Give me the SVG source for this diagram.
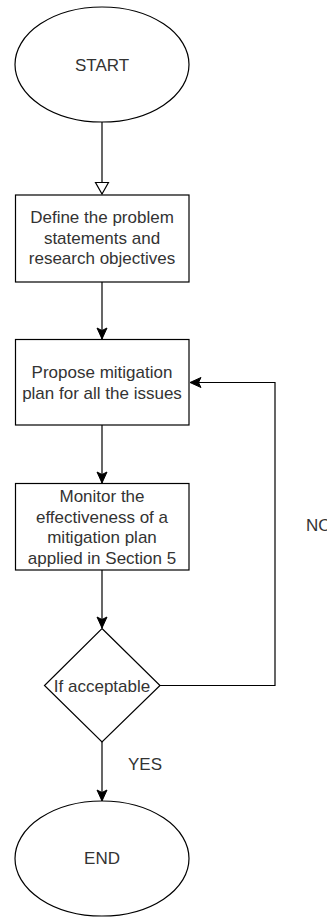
<svg xmlns="http://www.w3.org/2000/svg" width="327" height="917" viewBox="0 0 327 917">
<style>
.s{fill:#fff;stroke:#000;stroke-width:1.2}
.t{font-family:"Liberation Sans",Arial,sans-serif;font-size:17px;fill:#333;text-anchor:middle}
.c{fill:none;stroke:#000;stroke-width:1.2}
</style>
<defs>
<marker id="a" markerUnits="userSpaceOnUse" markerWidth="14" markerHeight="14" viewBox="0 0 14 14" refX="12" refY="7" orient="auto">
<path d="M1,2 L12,7 L1,12 L3.5,7 Z" fill="#000" stroke="#000" stroke-width="1"/>
</marker>
<marker id="o" markerUnits="userSpaceOnUse" markerWidth="16" markerHeight="16" viewBox="0 0 16 16" refX="13" refY="8" orient="auto">
<path d="M1.5,1.5 L13,8 L1.5,14.5 Z" fill="#fff" stroke="#000" stroke-width="1.2"/>
</marker>
</defs>
<g id="connectors">
<path class="c" d="M102,122 L102,194" marker-end="url(#o)"/>
<path class="c" d="M102,282 L102,339" marker-end="url(#a)"/>
<path class="c" d="M102,425 L102,483" marker-end="url(#a)"/>
<path class="c" d="M102,570 L102,628" marker-end="url(#a)"/>
<path class="c" d="M160,685.5 L275,685.5 L275,382.5 L190,382.5" marker-end="url(#a)"/>
<path class="c" d="M102,742 L102,801" marker-end="url(#a)"/>
<text class="t" x="306" y="531" style="text-anchor:start">NO</text>
<text class="t" x="145" y="770">YES</text>
</g>
<g id="start">
<ellipse class="s" cx="102" cy="64.5" rx="87" ry="57.5"/>
<text class="t" x="102" y="70.5">START</text>
</g>
<g id="define">
<rect class="s" x="15.5" y="195" width="173.5" height="87"/>
<text class="t" x="102" y="223">Define the problem</text>
<text class="t" x="102" y="243.5">statements and</text>
<text class="t" x="102" y="264">research objectives</text>
</g>
<g id="propose">
<rect class="s" x="15.5" y="339.5" width="173.5" height="85.5"/>
<text class="t" x="102" y="378">Propose mitigation</text>
<text class="t" x="102" y="398.5">plan for all the issues</text>
</g>
<g id="monitor">
<rect class="s" x="15.5" y="483.5" width="173.5" height="86.5"/>
<text class="t" x="102" y="502">Monitor the</text>
<text class="t" x="102" y="522.5">effectiveness of a</text>
<text class="t" x="102" y="543">mitigation plan</text>
<text class="t" x="102" y="563.5">applied in Section 5</text>
</g>
<g id="decision">
<path class="s" d="M102,628.5 L160,685.5 L102,742 L44.5,685.5 Z"/>
<text class="t" x="102" y="691.5">If acceptable</text>
</g>
<g id="end">
<ellipse class="s" cx="102" cy="858.5" rx="87" ry="57.5"/>
<text class="t" x="102" y="864">END</text>
</g>
</svg>
